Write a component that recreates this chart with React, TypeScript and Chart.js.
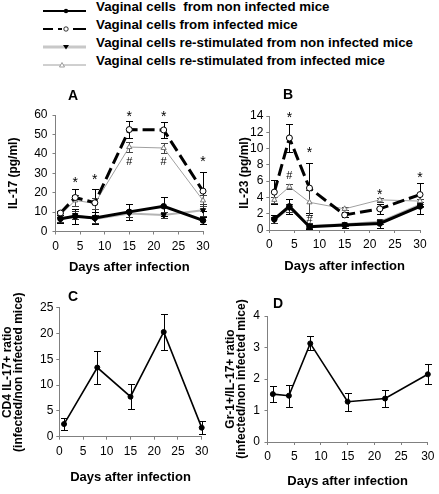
import React, { useEffect, useRef } from 'react';
import { Chart, registerables } from 'chart.js';

Chart.register(...registerables);

const FONT = '"Liberation Sans", Arial, Helvetica, sans-serif';

// ---------- data ----------
const DAYS = [1, 4, 8, 15, 22, 30];
const C_DAYS = [1, 8, 15, 22, 30];

const LEGEND_LABELS = [
  'Vaginal cells  from non infected mice',
  'Vaginal cells from infected mice',
  'Vaginal cells re-stimulated from non infected mice',
  'Vaginal cells re-stimulated from infected mice',
];

// Panel A: IL-17 (pg/ml)
const A_NONINF = [6.6, 7.8, 7.0, 10.1, 13.0, 5.7];
const A_NONINF_ERR = [2, 4, 3, 4.3, 5, 2];
const A_INF = [9.5, 17.5, 14.8, 52.5, 52.3, 20.8];
const A_INF_ERR = [1, 4.5, 7, 4.5, 4, 10];
const A_RESTIM_NONINF = [6.2, 8.5, 6.5, 9.3, 8.5, 11];
const A_RESTIM_NONINF_ERR = [1.5, 2, 2, 2, 1.5, 3];
const A_RESTIM_INF = [8.5, 16, 14.5, 43.5, 43, 16];
const A_RESTIM_INF_ERR = [1, 3, 3, 2.5, 2.5, 3];
const A_STAR_DAYS = [4, 8, 15, 22, 30];
const A_STAR_VALUES = [26.4, 28, 60.5, 60.5, 37.5];
const A_HASH_DAYS = [15, 22];
const A_HASH_VALUES = [36.3, 36.3];

// Panel B: IL-23 (pg/ml)
const B_NONINF = [1.33, 2.9, 0.4, 0.6, 0.8, 2.9];
const B_NONINF_ERR = [0.5, 0.9, 0.3, 0.3, 0.5, 0.9];
const B_INF = [4.65, 11.3, 5.15, 1.85, 2.6, 4.35];
const B_INF_ERR = [1.45, 1.75, 3.1, 0.3, 0.6, 1.45];
const B_RESTIM_NONINF = [1.2, 2.7, 0.5, 0.7, 1.0, 3.1];
const B_RESTIM_NONINF_ERR = [0.4, 0.5, 0.3, 0.2, 0.3, 0.3];
const B_RESTIM_INF = [3.7, 5.3, 3.4, 2.6, 3.7, 3.55];
const B_RESTIM_INF_ERR = [0.4, 0.3, 1.5, 0.2, 0.2, 0.3];
const B_STAR_DAYS = [4, 8, 22, 30];
const B_STAR_VALUES = [14.1, 9.85, 4.7, 6.7];
const B_HASH_DAYS = [4, 8];
const B_HASH_VALUES = [6.8, 1.33];

// Panel C: CD4 IL-17+ ratio
const C_RATIO = [2.45, 13.4, 7.75, 20.3, 1.75];
const C_RATIO_ERR = [1.2, 3.2, 2.4, 3.5, 1.2];

// Panel D: Gr-1+/IL-17+ ratio
const D_RATIO = [1.52, 1.47, 3.13, 1.28, 1.38, 2.15];
const D_RATIO_ERR = [0.25, 0.35, 0.22, 0.28, 0.26, 0.32];

// ---------- helpers ----------
const pts = (days: number[], vals: number[]) => days.map((d, i) => ({ x: d, y: vals[i] }));

type Kind = 'noninf' | 'inf' | 'restimNon' | 'restimInf' | 'ratio';

function dataset(kind: Kind, days: number[], vals: number[], errs: number[]): any {
  const base: any = {
    data: pts(days, vals),
    errors: errs,
    tension: 0,
    clip: false,
    pointHoverRadius: 0,
  };
  switch (kind) {
    case 'noninf':
      return { ...base, borderColor: '#000', borderWidth: 3, pointStyle: 'circle', pointRadius: 2.8,
        pointBackgroundColor: '#000', pointBorderColor: '#000', pointBorderWidth: 1, errorColor: '#000' };
    case 'inf':
      return { ...base, borderColor: '#000', borderWidth: 3, borderDash: [12, 5], pointStyle: 'circle', pointRadius: 3,
        pointBackgroundColor: '#fff', pointBorderColor: '#000', pointBorderWidth: 1, errorColor: '#000' };
    case 'restimNon':
      return { ...base, borderColor: '#b4b4b4', borderWidth: 2, pointStyle: 'triangle', pointRotation: 180, pointRadius: 3,
        pointBackgroundColor: '#000', pointBorderColor: '#000', pointBorderWidth: 1, errorColor: '#333' };
    case 'restimInf':
      return { ...base, borderColor: '#a0a0a0', borderWidth: 1, pointStyle: 'triangle', pointRadius: 3,
        pointBackgroundColor: '#fff', pointBorderColor: '#777', pointBorderWidth: 1, errorColor: '#444' };
    default:
      return { ...base, borderColor: '#000', borderWidth: 1.6, pointStyle: 'circle', pointRadius: 2.5,
        pointBackgroundColor: '#000', pointBorderColor: '#000', pointBorderWidth: 1, errorColor: '#000' };
  }
}

const errorBarPlugin = {
  id: 'errorBars',
  beforeDatasetsDraw(chart: any) {
    const ctx = chart.ctx;
    const xs = chart.scales.x;
    const ys = chart.scales.y;
    const cap = 3.5;
    chart.data.datasets.forEach((ds: any) => {
      if (!ds.errors) return;
      ctx.save();
      ctx.strokeStyle = ds.errorColor || '#000';
      ctx.lineWidth = 1;
      ds.data.forEach((p: any, i: number) => {
        const e = ds.errors[i];
        if (!e) return;
        const x = Math.round(xs.getPixelForValue(p.x)) + 0.5;
        const y1 = Math.round(ys.getPixelForValue(p.y + e)) + 0.5;
        const y2 = Math.round(ys.getPixelForValue(Math.max(0, p.y - e))) + 0.5;
        ctx.beginPath();
        ctx.moveTo(x, y1);
        ctx.lineTo(x, y2);
        ctx.moveTo(x - cap, y1);
        ctx.lineTo(x + cap, y1);
        ctx.moveTo(x - cap, y2);
        ctx.lineTo(x + cap, y2);
        ctx.stroke();
      });
      ctx.restore();
    });
  },
};

function textMarksPlugin(days: number[], values: number[], text: string, size: number) {
  return {
    id: 'textMarks_' + text.charCodeAt(0),
    afterDatasetsDraw(chart: any) {
      const ctx = chart.ctx;
      const xs = chart.scales.x;
      const ys = chart.scales.y;
      ctx.save();
      ctx.font = `${size}px ${FONT}`;
      ctx.fillStyle = '#000';
      ctx.textAlign = 'center';
      ctx.textBaseline = 'alphabetic';
      const m = ctx.measureText(text);
      const shift = (m.actualBoundingBoxAscent - m.actualBoundingBoxDescent) / 2;
      days.forEach((d, i) => {
        ctx.fillText(text, xs.getPixelForValue(d), ys.getPixelForValue(values[i]) + shift);
      });
      ctx.restore();
    },
  };
}

function panelLetterPlugin(letter: string, x: number, y: number) {
  return {
    id: 'panelLetter',
    afterDraw(chart: any) {
      const ctx = chart.ctx;
      ctx.save();
      ctx.font = `bold 14px ${FONT}`;
      ctx.fillStyle = '#000';
      ctx.textAlign = 'left';
      ctx.textBaseline = 'alphabetic';
      ctx.fillText(letter, x, y);
      ctx.restore();
    },
  };
}

type PanelCfg = {
  datasets: any[];
  yMax: number;
  yStep: number;
  yTitle: string | string[];
  yTitlePad: number;
  yTitleLineHeight: number;
  yWidth: number;
  yTickPad: number;
  xHeight: number;
  xTitlePad: number;
  padRight: number;
  padTop: number;
  plugins: any[];
};

const TICK_FONT = { size: 12, family: FONT };

function makeConfig(p: PanelCfg): any {
  return {
    type: 'line',
    data: { datasets: p.datasets },
    options: {
      animation: false,
      responsive: false,
      maintainAspectRatio: false,
      events: [],
      layout: { padding: { left: 0, right: p.padRight, top: p.padTop, bottom: 0 } },
      plugins: { legend: { display: false }, tooltip: { enabled: false }, title: { display: false } },
      scales: {
        x: {
          type: 'linear',
          min: 0,
          max: 30,
          ticks: { stepSize: 5, color: '#000', font: TICK_FONT, padding: 4.5, maxRotation: 0, autoSkip: false },
          grid: { drawOnChartArea: false, drawTicks: true, tickLength: 3, color: '#808080' },
          border: { display: true, color: '#808080' },
          title: {
            display: true,
            text: 'Days after infection',
            color: '#000',
            font: { size: 13, weight: 'bold', family: FONT },
            padding: { top: 0, bottom: p.xTitlePad },
          },
          afterFit: (s: any) => { s.height = p.xHeight; },
        },
        y: {
          type: 'linear',
          min: 0,
          max: p.yMax,
          ticks: { stepSize: p.yStep, color: '#000', font: TICK_FONT, padding: p.yTickPad, autoSkip: false },
          grid: { drawOnChartArea: false, drawTicks: true, tickLength: 3, color: '#808080' },
          border: { display: true, color: '#808080' },
          title: {
            display: true,
            text: p.yTitle,
            color: '#000',
            font: { size: 12, weight: 'bold', family: FONT, lineHeight: p.yTitleLineHeight },
            padding: { top: p.yTitlePad, bottom: 0 },
          },
          afterFit: (s: any) => { s.width = p.yWidth; },
        },
      },
    },
    plugins: [errorBarPlugin, ...p.plugins],
  };
}

function LegendSample({ kind }: { kind: number }) {
  const w = 43;
  const cy = 5;
  if (kind === 0) {
    return (
      <svg width={w} height={10}>
        <line x1={0} x2={w} y1={cy} y2={cy} stroke="#000" strokeWidth={2} />
        <circle cx={23} cy={cy} r={2.2} fill="#000" />
      </svg>
    );
  }
  if (kind === 1) {
    return (
      <svg width={w} height={10}>
        <line x1={0} x2={10} y1={cy} y2={cy} stroke="#000" strokeWidth={2} />
        <line x1={15} x2={19} y1={cy} y2={cy} stroke="#000" strokeWidth={2} />
        <circle cx={23} cy={cy} r={2.2} fill="#fff" stroke="#000" strokeWidth={0.8} />
        <line x1={30} x2={w} y1={cy} y2={cy} stroke="#000" strokeWidth={2} />
      </svg>
    );
  }
  if (kind === 2) {
    return (
      <svg width={w} height={10}>
        <line x1={0} x2={w} y1={cy} y2={cy} stroke="#c8c8c8" strokeWidth={3} />
        <polygon points={`${20},${cy - 2} ${26},${cy - 2} ${23},${cy + 2.5}`} fill="#000" />
      </svg>
    );
  }
  return (
    <svg width={w} height={10}>
      <line x1={0} x2={w} y1={cy} y2={cy} stroke="#a0a0a0" strokeWidth={1} />
      <polygon points={`${16.5},${cy + 2} ${21.5},${cy + 2} ${19},${cy - 2.5}`} fill="#fff" stroke="#888" strokeWidth={0.8} />
    </svg>
  );
}

export default function App() {
  const aRef = useRef<HTMLCanvasElement>(null);
  const bRef = useRef<HTMLCanvasElement>(null);
  const cRef = useRef<HTMLCanvasElement>(null);
  const dRef = useRef<HTMLCanvasElement>(null);

  useEffect(() => {
    Chart.defaults.font.family = FONT;
    Chart.defaults.color = '#000';

    const charts: Chart[] = [];

    charts.push(new Chart(aRef.current!, makeConfig({
      datasets: [
        dataset('noninf', DAYS, A_NONINF, A_NONINF_ERR),
        dataset('inf', DAYS, A_INF, A_INF_ERR),
        dataset('restimInf', DAYS, A_RESTIM_INF, A_RESTIM_INF_ERR),
        dataset('restimNon', DAYS, A_RESTIM_NONINF, A_RESTIM_NONINF_ERR),
      ],
      yMax: 60, yStep: 10, yTitle: 'IL-17 (pg/ml)', yTitlePad: 6, yTitleLineHeight: 1.2,
      yWidth: 55.5, yTickPad: 5, xHeight: 48.5, xTitlePad: 5, padRight: 17, padTop: 35,
      plugins: [
        textMarksPlugin(A_STAR_DAYS, A_STAR_VALUES, '*', 14),
        textMarksPlugin(A_HASH_DAYS, A_HASH_VALUES, '#', 11),
        panelLetterPlugin('A', 68, 20),
      ],
    })));

    charts.push(new Chart(bRef.current!, makeConfig({
      datasets: [
        dataset('noninf', DAYS, B_NONINF, B_NONINF_ERR),
        dataset('inf', DAYS, B_INF, B_INF_ERR),
        dataset('restimInf', DAYS, B_RESTIM_INF, B_RESTIM_INF_ERR),
        dataset('restimNon', DAYS, B_RESTIM_NONINF, B_RESTIM_NONINF_ERR),
      ],
      yMax: 14, yStep: 2, yTitle: 'IL-23 (pg/ml)', yTitlePad: 17.8, yTitleLineHeight: 1.2,
      yWidth: 49.3, yTickPad: 3, xHeight: 50, xTitlePad: 5.5, padRight: 19, padTop: 36,
      plugins: [
        textMarksPlugin(B_STAR_DAYS, B_STAR_VALUES, '*', 14),
        textMarksPlugin(B_HASH_DAYS, B_HASH_VALUES, '#', 11),
        panelLetterPlugin('B', 63, 19),
      ],
    })));

    charts.push(new Chart(cRef.current!, makeConfig({
      datasets: [dataset('ratio', C_DAYS, C_RATIO, C_RATIO_ERR)],
      yMax: 25, yStep: 5, yTitle: ['CD4 IL-17+ ratio', '(infected/non infected mice)'], yTitlePad: 2, yTitleLineHeight: 0.95,
      yWidth: 59.3, yTickPad: 3, xHeight: 57.3, xTitlePad: 8.5, padRight: 18.3, padTop: 27.7,
      plugins: [panelLetterPlugin('C', 68, 21)],
    })));

    charts.push(new Chart(dRef.current!, makeConfig({
      datasets: [dataset('ratio', DAYS, D_RATIO, D_RATIO_ERR)],
      yMax: 4, yStep: 1, yTitle: ['Gr-1+/IL-17+ ratio', '(infected/non infected mice)'], yTitlePad: 5, yTitleLineHeight: 0.95,
      yWidth: 47.5, yTickPad: 4.5, xHeight: 52, xTitlePad: 4.5, padRight: 9.7, padTop: 36,
      plugins: [panelLetterPlugin('D', 53, 28)],
    })));

    return () => charts.forEach((c) => c.destroy());
  }, []);

  const canvasStyle = (left: number, top: number): React.CSSProperties => ({ position: 'absolute', left, top });

  return (
    <div style={{ position: 'absolute', left: 0, top: 0, width: 439, height: 494, background: '#fff', overflow: 'hidden', fontFamily: FONT }}>
      {LEGEND_LABELS.map((label, i) => (
        <React.Fragment key={label}>
          <div style={{ position: 'absolute', left: 43, top: 2 + i * 17.9 }}>
            <LegendSample kind={i} />
          </div>
          <div style={{ position: 'absolute', left: 96, top: -1 + i * 17.9, height: 16, lineHeight: '16px', fontSize: 13.3, fontWeight: 'bold', whiteSpace: 'pre', color: '#000' }}>
            {label}
          </div>
        </React.Fragment>
      ))}
      <canvas ref={aRef} width={220} height={200} style={canvasStyle(0, 80)} />
      <canvas ref={bRef} width={219} height={200} style={canvasStyle(220, 80)} />
      <canvas ref={cRef} width={220} height={214} style={canvasStyle(0, 280)} />
      <canvas ref={dRef} width={219} height={214} style={canvasStyle(220, 280)} />
    </div>
  );
}
